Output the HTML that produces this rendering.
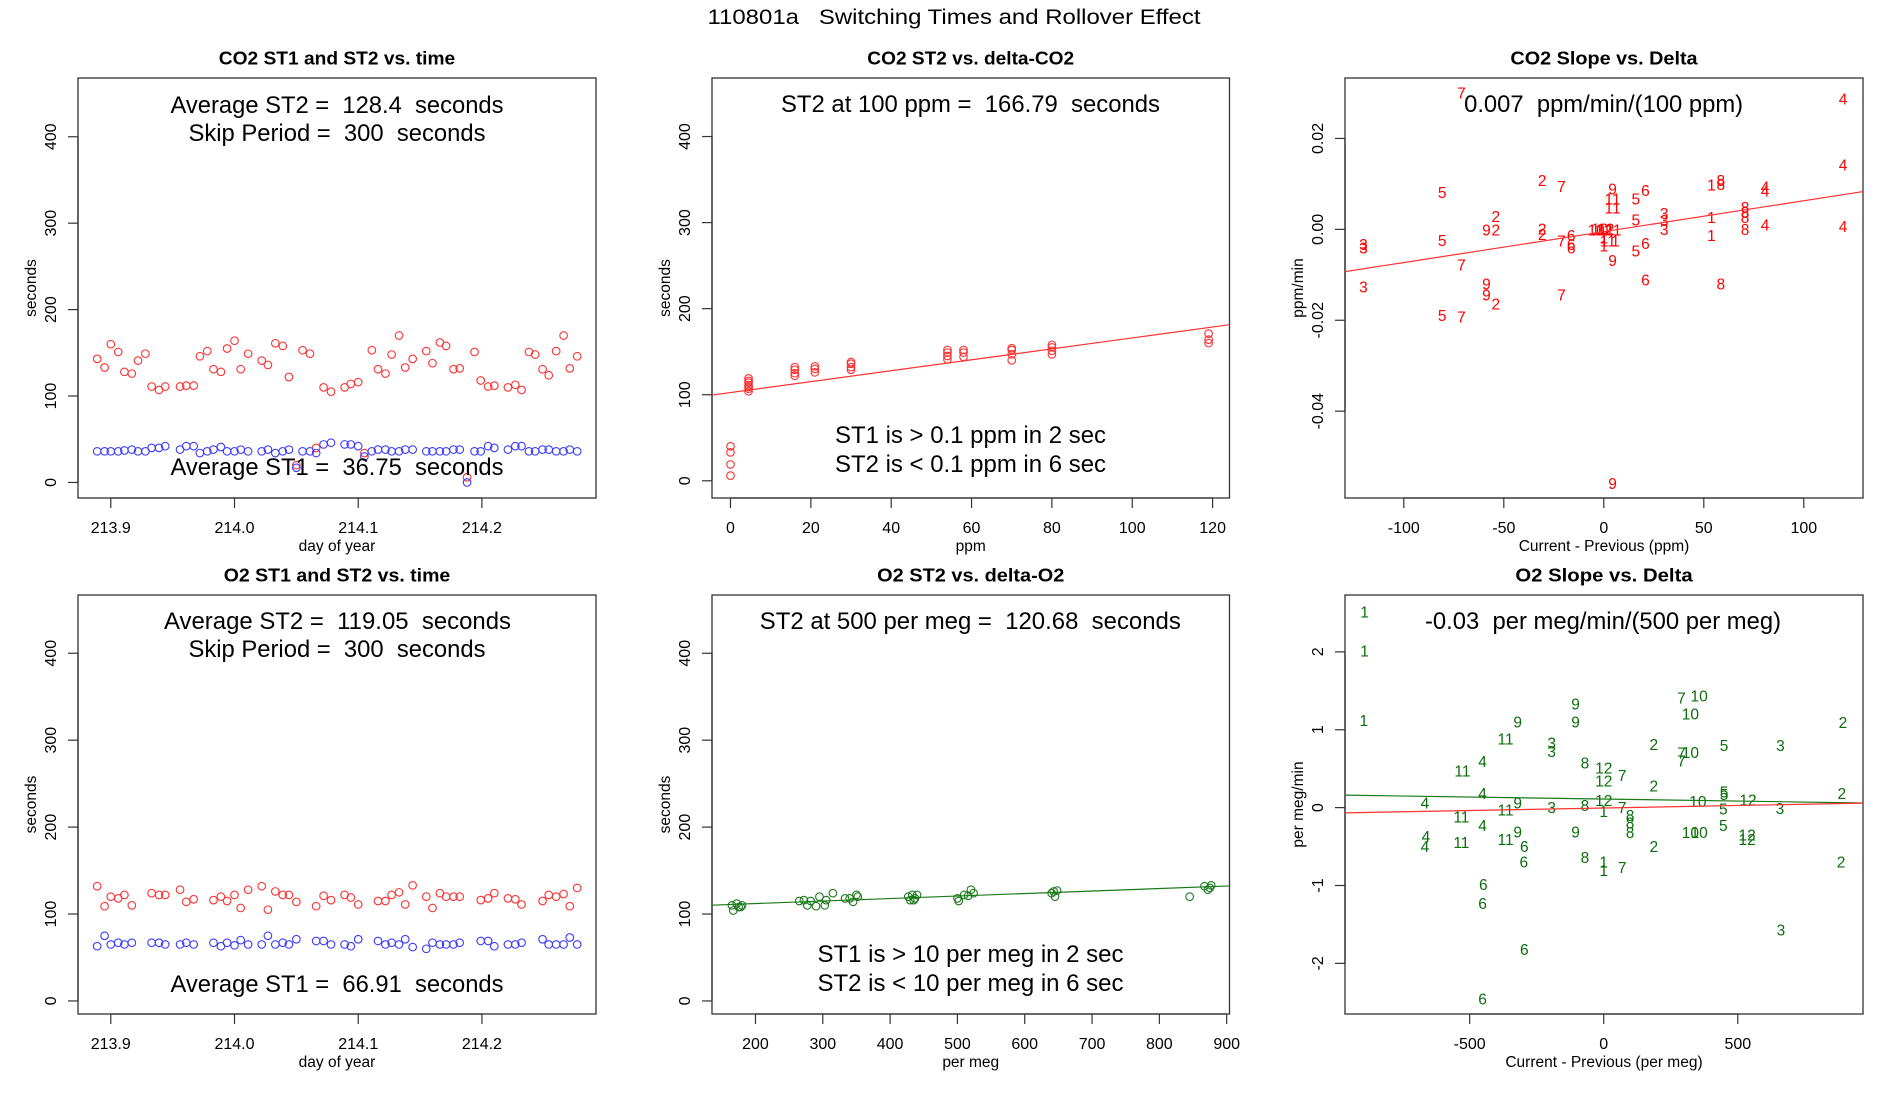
<!DOCTYPE html>
<html><head><meta charset="utf-8"><title>110801a Switching Times and Rollover Effect</title>
<style>
html,body{margin:0;padding:0;background:#fff;}
svg{display:block;font-family:"Liberation Sans",Arial,sans-serif;}
text{white-space:pre;}
</style></head>
<body>
<svg id="chart" width="1900" height="1100" viewBox="0 0 1900 1100" xmlns="http://www.w3.org/2000/svg">
<rect x="0" y="0" width="1900" height="1100" fill="#fff"/>
<text x="954" y="24" font-size="21" text-anchor="middle" textLength="493" lengthAdjust="spacingAndGlyphs">110801a   Switching Times and Rollover Effect</text>
</svg>
<script>
// ---------- Panel 1: CO2 ST1/ST2 vs time ----------
const co2Day = [213.889,213.895,213.900,213.906,213.911,213.917,213.922,213.928,213.933,213.939,213.944,
213.956,213.961,213.967,213.972,213.978,213.983,213.989,213.994,214.000,214.005,214.011,
214.022,214.027,214.033,214.039,214.044,214.050,214.055,214.061,214.066,214.072,214.078,
214.089,214.094,214.100,214.105,214.111,214.116,214.122,214.127,214.133,214.138,214.144,
214.155,214.160,214.166,214.171,214.177,214.182,214.188,214.194,214.199,214.205,214.210,
214.221,214.227,214.232,214.238,214.243,214.249,214.254,214.260,214.266,214.271,214.277];
const co2ST2 = [143,133,160,151,128,126,141,149,111,107,111,
111,112,112,146,152,131,128,155,164,131,149,
141,136,161,158,122,20,153,149,40,110,105,
110,114,116,34,153,131,126,148,170,133,143,
152,138,162,158,131,132,6,151,118,111,112,
110,113,107,151,148,131,124,152,170,132,146];
const co2ST1 = [36,36,36,36,37,38,36,36,40,40,42,
38,42,42,34,36,38,41,36,36,38,36,
36,38,34,36,38,17,36,36,34,44,46,
44,44,42,30,36,38,38,36,36,38,38,
36,36,36,36,38,38,0,36,36,42,40,
38,42,42,36,36,38,38,36,36,38,36];
const dayTicks = [213.9,214.0,214.1,214.2];
const dayTickLabels = ["213.9","214.0","214.1","214.2"];
const secTicks = [0,100,200,300,400];

// ---------- Panel 2: CO2 ST2 vs delta ----------
const co2Delta = [0,0,0,0, 4.5,4.5,4.5,4.5,4.5,4.5,4.5, 16,16,16,16, 21,21,21, 30,30,30,30, 54,54,54,54, 58,58,58, 70,70,70,70, 80,80,80,80, 119,119,119];
const co2DeltaST2 = [40,33,19,6, 119,116,114,111,109,107,104, 132,129,125,122, 133,130,126, 138,136,132,129, 152,149,145,141, 152,149,144, 154,152,147,140, 158,155,151,147, 171,164,160];
const co2Fit = [102.5, 0.635];
const ppmTicks = [0,20,40,60,80,100,120];

// ---------- Panel 3: CO2 slope vs delta ----------
const co2SlopeX = [-71.2,119.6,119.6,119.6,-30.8,-21.2,-80.8,4.4,20.8,16,4.4,4.4,53.8,58.5,58.5,80.6,80.6,
-54,-58.7,-54,-80.8,-120.2,-120.2,-30.8,-30.8,-21.2,-16.3,-16.3,-16.3,
-3.8,0,4.8,-2,1,0,2,5.8,0,
16,30.2,30.2,30.2,53.8,53.8,70.6,70.6,70.6,70.6,80.6,
16,20.8,4.4,-71.2,-120.2,-58.7,-58.7,-54,-21.2,20.8,58.5,-80.8,-71.2,4.4];
const co2SlopeY = [0.030,0.0287,0.0142,0.0006,0.0107,0.0094,0.0081,0.0089,0.0085,0.0067,0.0067,0.0047,0.0098,0.0107,0.0099,0.0093,0.0084,
0.0028,-0.0001,-0.0001,-0.0024,-0.0033,-0.0041,0.0001,-0.0011,-0.0026,-0.0013,-0.0033,-0.0041,
-0.0001,-0.0001,-0.0001,0.0001,0.0001,-0.0019,-0.0026,-0.0026,-0.0037,
0.0021,0.0035,0.0020,0.0000,0.0026,-0.0013,0.0048,0.0037,0.0026,0.0000,0.0010,
-0.0048,-0.0031,-0.0069,-0.0078,-0.0127,-0.0120,-0.0144,-0.0164,-0.0144,-0.0111,-0.0120,-0.0189,-0.0193,-0.0559];
const co2SlopeLab = ["7","4","4","4","2","7","5","9","6","5","11","11","1","8","8","4","4",
"2","9","2","5","3","3","2","2","7","6","6","6",
"10","12","11","10","12","1","11","1","1",
"5","3","3","3","1","1","8","8","8","8","4",
"5","6","9","7","3","9","9","2","7","6","8","5","7","9"];
const co2SlopeFit = [-0.0005, 0.000068];
const co2dTicks = [-100,-50,0,50,100];
const co2sTicks = [-0.04,-0.02,0.00,0.02];
const co2sTickLabels = ["-0.04","-0.02","0.00","0.02"];

// ---------- Panel 4: O2 ST1/ST2 vs time ----------
const o2Day = [213.889,213.895,213.900,213.906,213.911,213.917,213.933,213.939,213.944,213.956,213.961,213.967,
213.983,213.989,213.994,214.000,214.005,214.011,214.022,214.027,214.033,214.039,214.044,214.050,
214.066,214.072,214.078,214.089,214.094,214.100,214.116,214.122,214.127,214.133,214.138,214.144,
214.155,214.160,214.166,214.171,214.177,214.182,214.199,214.205,214.210,214.221,214.227,214.232,
214.249,214.254,214.260,214.266,214.271,214.277];
const o2ST2 = [132,109,120,118,122,110,124,122,122,128,114,117,
116,120,115,122,107,128,132,105,126,122,122,114,
109,121,116,122,119,111,115,115,122,125,111,133,
120,107,124,120,120,120,116,118,124,118,117,111,
115,122,120,123,109,130];
const o2ST1 = [63,75,65,67,65,67,67,67,65,65,67,65,
67,63,67,64,70,65,65,75,65,67,65,71,
69,69,65,65,63,71,69,65,67,65,71,62,
60,67,65,65,65,67,69,69,63,65,65,67,
71,65,65,65,73,65];

// ---------- Panel 5: O2 ST2 vs delta ----------
const o2Delta = [165,167,172,175,180,178,265,272,277,282,290,295,305,303,315,333,340,345,350,352,427,430,433,437,440,435,500,502,510,516,520,524,640,643,645,648,845,867,872,875,877];
const o2DeltaST2 = [110,104,112,108,110,108,115,116,110,115,109,120,116,110,124,118,118,114,122,120,120,116,122,118,122,116,118,115,122,121,128,124,124,126,120,127,120,132,128,130,133];
const o2Fit = [106.3, 0.0288];
const megTicks = [200,300,400,500,600,700,800,900];

// ---------- Panel 6: O2 slope vs delta ----------
const o2SlopeX = [-892,-892,-895,-105,-105,-321,-366,-194,-194,-452,-527,-70,0,0,69,187,290,356,323,290,323,290,449,659,892,
187,-452,-667,-321,-366,-194,-70,0,0,69,98,98,98,351,449,449,538,888,657,446,446,
-531,-452,-366,-321,-105,-663,-667,-531,-296,-298,-70,0,0,69,187,323,356,535,535,885,
-449,-452,661,-296,-452];
const o2SlopeY = [2.51,2.01,1.12,1.33,1.10,1.10,0.88,0.83,0.72,0.59,0.47,0.57,0.51,0.34,0.41,0.81,1.41,1.43,1.20,0.70,0.71,0.60,0.80,0.80,1.09,
0.28,0.18,0.06,0.06,-0.03,0.00,0.03,0.09,-0.05,0.00,-0.10,-0.20,-0.32,0.08,0.20,0.17,0.10,0.18,-0.01,-0.02,-0.23,
-0.12,-0.23,-0.41,-0.31,-0.31,-0.37,-0.50,-0.45,-0.50,-0.70,-0.64,-0.70,-0.81,-0.77,-0.50,-0.32,-0.32,-0.35,-0.41,-0.70,
-0.99,-1.23,-1.57,-1.82,-2.46];
const o2SlopeLab = ["1","1","1","9","9","9","11","3","3","4","11","8","12","12","7","2","7","10","10","7","10","7","5","3","2",
"2","4","4","9","11","3","8","12","1","7","8","8","8","10","5","5","12","2","3","5","5",
"11","4","11","9","9","4","4","11","6","6","8","1","1","7","2","10","10","12","12","2",
"6","6","3","6","6"];
const o2SlopeFitGreen = [0.11, -0.000052];
const o2SlopeFitRed = [-0.005, 0.000065];
const o2dTicks = [-500,0,500];
const o2sTicks = [-2,-1,0,1,2];

// ---------- drawing ----------
const NS = "http://www.w3.org/2000/svg";
const svg = document.getElementById('chart');
function mk(tag, attrs, parent){
  const e = document.createElementNS(NS, tag);
  for (const k in attrs) e.setAttribute(k, attrs[k]);
  (parent || svg).appendChild(e);
  return e;
}
function scales(p){
  return {
    sx: v => p.x0 + (v - p.xd[0]) / (p.xd[1] - p.xd[0]) * (p.x1 - p.x0),
    sy: v => p.y1 - (v - p.yd[0]) / (p.yd[1] - p.yd[0]) * (p.y1 - p.y0)
  };
}
function frame(p, key, title, xlab, ylab, xt, xtl, yt, ytl){
  const g = mk('g', {});
  
  
  const s = scales(p);
  const t = mk('text', {x:(p.x0+p.x1)/2, y:p.y0-13.5, 'font-size':18, 'font-weight':'bold', 'text-anchor':'middle', textLength: title.length*9.85, lengthAdjust:'spacingAndGlyphs'}, g);
  t.textContent = title;
  
  
  const box = mk('rect', {x:p.x0, y:p.y0, width:p.x1-p.x0, height:p.y1-p.y0, fill:'none', stroke:'#333', 'stroke-width':1.3}, g);
  
  
  // x axis
  const xa = mk('g', {}, g);
  
  
  mk('line', {x1:s.sx(xt[0]), x2:s.sx(xt[xt.length-1]), y1:p.y1, y2:p.y1, stroke:'#333', 'stroke-width':1.3}, xa);
  xt.forEach((v,i) => {
    const x = s.sx(v);
    const tk = mk('line', {x1:x, x2:x, y1:p.y1, y2:p.y1+10, stroke:'#333', 'stroke-width':1.2}, xa);
    
    
    const tl = mk('text', {x:x, y:p.y1+35, 'font-size':16, 'text-anchor':'middle'}, xa);
    tl.textContent = xtl[i];
    
    
  });
  const xl = mk('text', {x:(p.x0+p.x1)/2, y:p.y1+53, 'font-size':15.5, 'text-anchor':'middle'}, xa);
  xl.textContent = xlab;
  
  
  // y axis
  const ya = mk('g', {}, g);
  
  
  mk('line', {x1:p.x0, x2:p.x0, y1:s.sy(yt[0]), y2:s.sy(yt[yt.length-1]), stroke:'#333', 'stroke-width':1.3}, ya);
  yt.forEach((v,i) => {
    const y = s.sy(v);
    const tk = mk('line', {x1:p.x0-10, x2:p.x0, y1:y, y2:y, stroke:'#333', 'stroke-width':1.2}, ya);
    
    
    const lx = p.x0 - 22;
    const tl = mk('text', {x:lx, y:y, 'font-size':16, 'text-anchor':'middle', transform:'rotate(-90 '+lx+' '+y+')'}, ya);
    tl.textContent = ytl[i];
    
    
  });
  const lx = p.x0 - 42, ly = (p.y0+p.y1)/2;
  const yl = mk('text', {x:lx, y:ly, 'font-size':15.5, 'text-anchor':'middle', transform:'rotate(-90 '+lx+' '+ly+')'}, ya);
  yl.textContent = ylab;
  
  
  return {g, s};
}
function note(g, x, y, w, txt, name){
  const t = mk('text', {x:x, y:y, 'font-size':24, 'text-anchor':'middle', textLength:w, lengthAdjust:'spacingAndGlyphs'}, g);
  t.textContent = txt;
  
  
}
function circles(g, s, xs, ys, color, name){
  const sg = mk('g', {}, g);
  
  
  xs.forEach((v,i) => {
    const c = mk('circle', {cx:s.sx(v), cy:s.sy(ys[i]), r:3.8, fill:'none', stroke:color, 'stroke-width':1.1}, sg);
    
    
  });
}
function labels(g, s, xs, ys, labs, color, name){
  const sg = mk('g', {}, g);
  
  
  xs.forEach((v,i) => {
    const t = mk('text', {x:s.sx(v), y:s.sy(ys[i])+5.5, 'font-size':15.5, 'text-anchor':'middle', fill:color}, sg);
    t.textContent = labs[i];
    
    
  });
}
function fitLine(g, p, s, coef, color, name){
  const y0 = coef[0] + coef[1]*p.xd[0], y1 = coef[0] + coef[1]*p.xd[1];
  const l = mk('line', {x1:p.x0, x2:p.x1, y1:s.sy(y0), y2:s.sy(y1), stroke:color, 'stroke-width':1.2}, g);
  
  
}
const secLabels = secTicks.map(String);

// Panel 1
const P1 = {x0:78,x1:596,y0:78,y1:498, xd:[213.8735,214.2922], yd:[-18,468]};
let r = frame(P1, 'co2-time', 'CO2 ST1 and ST2 vs. time', 'day of year', 'seconds', dayTicks, dayTickLabels, secTicks, secLabels);
circles(r.g, r.s, co2Day, co2ST2, '#ff3030', 'co2-st2-series');
circles(r.g, r.s, co2Day, co2ST1, '#3a3aff', 'co2-st1-series');
note(r.g, 337, 113, 333, 'Average ST2 =  128.4  seconds', 'co2-avg-st2-note');
note(r.g, 337, 141, 297, 'Skip Period =  300  seconds', 'co2-skip-period-note');
note(r.g, 337, 475, 333, 'Average ST1 =  36.75  seconds', 'co2-avg-st1-note');

// Panel 2
const P2 = {x0:712,x1:1229.5,y0:78,y1:498, xd:[-4.6,124.2], yd:[-20,468]};
r = frame(P2, 'co2-delta', 'CO2 ST2 vs. delta-CO2', 'ppm', 'seconds', ppmTicks, ppmTicks.map(String), secTicks, secLabels);
circles(r.g, r.s, co2Delta, co2DeltaST2, '#ff3030', 'co2-delta-series');
fitLine(r.g, P2, r.s, co2Fit, '#ff3030', 'co2-fit-line');
note(r.g, 970.5, 112, 379, 'ST2 at 100 ppm =  166.79  seconds', 'co2-st2-at-100-note');
note(r.g, 970.5, 443, 271, 'ST1 is > 0.1 ppm in 2 sec', 'co2-st1-criterion-note');
note(r.g, 970.5, 472, 271, 'ST2 is < 0.1 ppm in 6 sec', 'co2-st2-criterion-note');

// Panel 3
const P3 = {x0:1345,x1:1863,y0:78,y1:498, xd:[-129.4,129.6], yd:[-0.0591,0.0333]};
r = frame(P3, 'co2-slope', 'CO2 Slope vs. Delta', 'Current - Previous (ppm)', 'ppm/min', co2dTicks, co2dTicks.map(String), co2sTicks, co2sTickLabels);
labels(r.g, r.s, co2SlopeX, co2SlopeY, co2SlopeLab, '#ff0000', 'co2-slope-series');
fitLine(r.g, P3, r.s, co2SlopeFit, '#ff3030', 'co2-slope-fit-line');
note(r.g, 1603.6, 112, 279, '0.007  ppm/min/(100 ppm)', 'co2-slope-note');

// Panel 4
const P4 = {x0:78,x1:596,y0:595,y1:1014, xd:[213.8735,214.2922], yd:[-15,467]};
r = frame(P4, 'o2-time', 'O2 ST1 and ST2 vs. time', 'day of year', 'seconds', dayTicks, dayTickLabels, secTicks, secLabels);
circles(r.g, r.s, o2Day, o2ST2, '#ff3030', 'o2-st2-series');
circles(r.g, r.s, o2Day, o2ST1, '#3a3aff', 'o2-st1-series');
note(r.g, 337.5, 629, 347, 'Average ST2 =  119.05  seconds', 'o2-avg-st2-note');
note(r.g, 337, 657, 297, 'Skip Period =  300  seconds', 'o2-skip-period-note');
note(r.g, 337, 992, 333, 'Average ST1 =  66.91  seconds', 'o2-avg-st1-note');

// Panel 5
const P5 = {x0:712,x1:1229.5,y0:595,y1:1014, xd:[135.4,904.2], yd:[-15,467]};
r = frame(P5, 'o2-delta', 'O2 ST2 vs. delta-O2', 'per meg', 'seconds', megTicks, megTicks.map(String), secTicks, secLabels);
circles(r.g, r.s, o2Delta, o2DeltaST2, '#1a7a1a', 'o2-delta-series');
fitLine(r.g, P5, r.s, o2Fit, '#1a7a1a', 'o2-fit-line');
note(r.g, 970.3, 629, 421, 'ST2 at 500 per meg =  120.68  seconds', 'o2-st2-at-500-note');
note(r.g, 970.5, 962, 306, 'ST1 is > 10 per meg in 2 sec', 'o2-st1-criterion-note');
note(r.g, 970.5, 991, 306, 'ST2 is < 10 per meg in 6 sec', 'o2-st2-criterion-note');

// Panel 6
const P6 = {x0:1345,x1:1863,y0:595,y1:1014, xd:[-965,967], yd:[-2.65,2.73]};
r = frame(P6, 'o2-slope', 'O2 Slope vs. Delta', 'Current - Previous (per meg)', 'per meg/min', o2dTicks, o2dTicks.map(String), o2sTicks, o2sTicks.map(String));
labels(r.g, r.s, o2SlopeX, o2SlopeY, o2SlopeLab, '#0a6e0a', 'o2-slope-series');
fitLine(r.g, P6, r.s, o2SlopeFitGreen, '#1a7a1a', 'o2-slope-fit-line');
fitLine(r.g, P6, r.s, o2SlopeFitRed, '#ff3030', 'o2-slope-zero-line');
note(r.g, 1603, 629, 356, '-0.03  per meg/min/(500 per meg)', 'o2-slope-note');
</script>
</body></html>
